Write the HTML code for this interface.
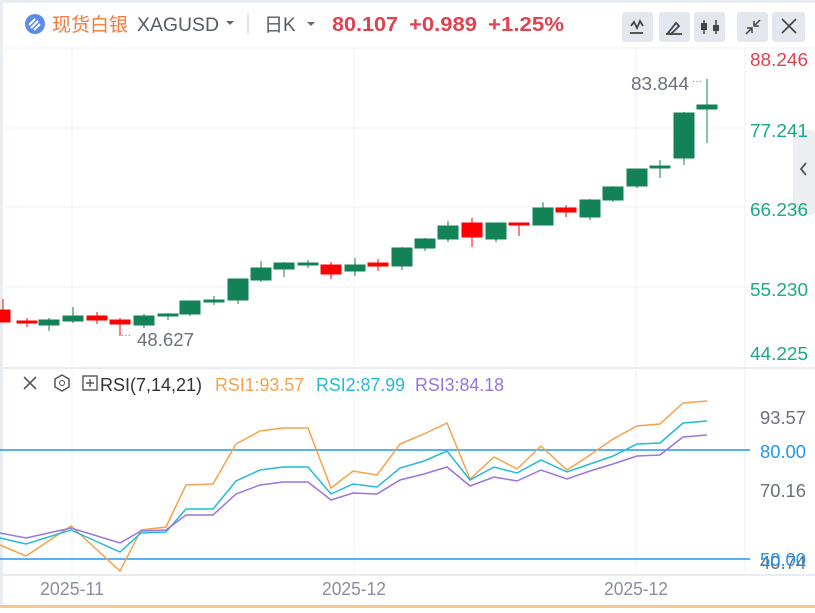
<!DOCTYPE html>
<html><head><meta charset="utf-8"><style>
body{margin:0;width:815px;height:608px;overflow:hidden;background:#fff;font-family:"Liberation Sans","Noto Sans CJK SC",sans-serif}
</style></head><body>
<svg width="815" height="608" xmlns="http://www.w3.org/2000/svg" font-family="Liberation Sans, Noto Sans CJK SC, sans-serif">
<rect x="0" y="0" width="815" height="608" fill="#fff"/>
<rect x="0" y="0" width="815" height="3" fill="#e8ebf0"/>
<rect x="0" y="0" width="3" height="608" fill="#e8ebf0"/>
<line x1="0" y1="48" x2="815" y2="48" stroke="#eef0f3"/>
<!-- header -->
<circle cx="35" cy="24" r="10" fill="#5b8de6"/>
<path d="M29 25 l6 -6 M31 28 l7 -7 M34 30 l6 -6" stroke="#fff" stroke-width="2"/>
<text x="52" y="31" font-size="19" fill="#f5793a">现货白银</text>
<text x="137" y="31" font-size="19" fill="#555a66" textLength="82" lengthAdjust="spacingAndGlyphs">XAGUSD</text>
<path d="M226 21 l4 4 l4 -4z" fill="#666"/>
<line x1="248" y1="14" x2="248" y2="34" stroke="#ccc"/>
<text x="264" y="31" font-size="19" fill="#555a66">日K</text>
<path d="M307 22 l4 4 l4 -4z" fill="#666"/>
<text x="332" y="31" font-size="20" font-weight="bold" fill="#e0434f" textLength="66" lengthAdjust="spacingAndGlyphs">80.107</text>
<text x="409" y="31" font-size="20" font-weight="bold" fill="#e0434f" textLength="68" lengthAdjust="spacingAndGlyphs">+0.989</text>
<text x="488" y="31" font-size="20" font-weight="bold" fill="#e0434f" textLength="76" lengthAdjust="spacingAndGlyphs">+1.25%</text>
<g fill="#e4e7ed"><rect x="622" y="12" width="31" height="30" rx="3"/><rect x="659" y="12" width="31" height="30" rx="3"/><rect x="694" y="12" width="31" height="30" rx="3"/><rect x="737" y="12" width="31" height="30" rx="3"/><rect x="772" y="12" width="33" height="30" rx="3"/></g>
<path d="M631 26 l3 -4 l3 6 l3 -7 l3 5 M630 33 h13" stroke="#444" stroke-width="1.8" fill="none"/>
<path d="M668 33 l8 -10 l3 3 l-8 8z M666 34 h16" stroke="#444" stroke-width="1.8" fill="none"/>
<path d="M704 20 v14 M716 20 v14" stroke="#444" stroke-width="1.5"/><rect x="701" y="23" width="6" height="7" fill="#444"/><rect x="713" y="25" width="6" height="6" fill="#444"/>
<path d="M746 34 l6 -6 M747 28 h5 v5 M760 20 l-6 6 M754 21 v5 h5" stroke="#444" stroke-width="1.5" fill="none"/>
<path d="M782 19 l14 14 M796 19 l-14 14" stroke="#444" stroke-width="1.6"/>
<!-- main grid -->
<g stroke="#f0f1f4"><line x1="0" y1="128" x2="745" y2="128"/><line x1="0" y1="207" x2="745" y2="207"/><line x1="0" y1="287" x2="745" y2="287"/><line x1="72" y1="48" x2="72" y2="368"/><line x1="354" y1="48" x2="354" y2="368"/><line x1="636" y1="48" x2="636" y2="368"/><line x1="745" y1="48" x2="745" y2="575"/></g>
<rect x="793" y="130" width="22" height="85" rx="4" fill="#eceef1"/>
<path d="M806 163 l-5 6 l5 6" stroke="#555" stroke-width="1.8" fill="none"/>
<g font-size="18"><text x="750" y="66" fill="#e0434f" textLength="58" lengthAdjust="spacingAndGlyphs">88.246</text><text x="750" y="137" fill="#1aa889" textLength="58" lengthAdjust="spacingAndGlyphs">77.241</text><text x="750" y="216" fill="#1aa889" textLength="58" lengthAdjust="spacingAndGlyphs">66.236</text><text x="750" y="296" fill="#1aa889" textLength="58" lengthAdjust="spacingAndGlyphs">55.230</text><text x="750" y="360" fill="#1aa889" textLength="58" lengthAdjust="spacingAndGlyphs">44.225</text></g>
<!-- candles -->
<g>
<g stroke="#f00" fill="#f00">
<line x1="3" y1="299" x2="3" y2="322"/><rect x="0" y="310" width="10" height="12"/>
<line x1="27" y1="318" x2="27" y2="327"/><rect x="17" y="321" width="20" height="2"/>
<line x1="97" y1="312" x2="97" y2="324"/><rect x="87" y="316" width="20" height="4"/>
<line x1="120" y1="318" x2="120" y2="336"/><rect x="110" y="320" width="20" height="4"/>
<line x1="331" y1="262" x2="331" y2="279"/><rect x="321" y="265" width="20" height="9"/>
<line x1="378" y1="259" x2="378" y2="271"/><rect x="368" y="263" width="20" height="3"/>
<line x1="472" y1="218" x2="472" y2="247"/><rect x="462" y="223" width="20" height="14"/>
<line x1="519" y1="224" x2="519" y2="236"/><rect x="509" y="223" width="20" height="2"/>
<line x1="566" y1="205" x2="566" y2="217"/><rect x="556" y="208" width="20" height="4"/>
</g>
<g stroke="#138257" fill="#138257">
<line x1="49" y1="318" x2="49" y2="331"/><rect x="39" y="320" width="20" height="5"/>
<line x1="73" y1="307" x2="73" y2="323"/><rect x="63" y="316" width="20" height="5"/>
<line x1="144" y1="314" x2="144" y2="328"/><rect x="134" y="316" width="20" height="9"/>
<line x1="168" y1="313" x2="168" y2="320"/><rect x="158" y="314" width="20" height="2"/>
<line x1="190" y1="301" x2="190" y2="316"/><rect x="180" y="301" width="20" height="13"/>
<line x1="214" y1="296" x2="214" y2="305"/><rect x="204" y="300" width="20" height="2"/>
<line x1="238" y1="279" x2="238" y2="304"/><rect x="228" y="279" width="20" height="21"/>
<line x1="261" y1="261" x2="261" y2="282"/><rect x="251" y="268" width="20" height="12"/>
<line x1="284" y1="262" x2="284" y2="277"/><rect x="274" y="263" width="20" height="6"/>
<line x1="308" y1="260" x2="308" y2="268"/><rect x="298" y="263" width="20" height="2"/>
<line x1="355" y1="258" x2="355" y2="276"/><rect x="345" y="265" width="20" height="6"/>
<line x1="402" y1="247" x2="402" y2="270"/><rect x="392" y="248" width="20" height="18"/>
<line x1="425" y1="238" x2="425" y2="251"/><rect x="415" y="239" width="20" height="9"/>
<line x1="448" y1="221" x2="448" y2="242"/><rect x="438" y="226" width="20" height="13"/>
<line x1="496" y1="223" x2="496" y2="242"/><rect x="486" y="223" width="20" height="16"/>
<line x1="543" y1="202" x2="543" y2="225"/><rect x="533" y="208" width="20" height="17"/>
<line x1="590" y1="199" x2="590" y2="220"/><rect x="580" y="200" width="20" height="17"/>
<line x1="613" y1="186" x2="613" y2="202"/><rect x="603" y="187" width="20" height="13"/>
<line x1="637" y1="169" x2="637" y2="188"/><rect x="627" y="169" width="20" height="17"/>
<line x1="660" y1="160" x2="660" y2="178"/><rect x="650" y="166" width="20" height="2"/>
<line x1="684" y1="112" x2="684" y2="165"/><rect x="674" y="113" width="20" height="45"/>
<line x1="707" y1="79" x2="707" y2="143"/><rect x="697" y="105" width="20" height="4"/>
</g>
</g>
<text x="631" y="90" font-size="18" fill="#6b6f7e" textLength="58" lengthAdjust="spacingAndGlyphs">83.844</text>
<text x="692" y="84" font-size="10" fill="#6b6f7e">···</text>
<text x="137" y="346" font-size="18" fill="#6b6f7e" textLength="57" lengthAdjust="spacingAndGlyphs">48.627</text>
<text x="121" y="338" font-size="10" fill="#6b6f7e">···</text>
<!-- RSI pane -->
<line x1="0" y1="368" x2="815" y2="368" stroke="#e8ebf0" stroke-width="2"/>
<g stroke="#f0f1f4"><line x1="72" y1="370" x2="72" y2="575"/><line x1="354" y1="370" x2="354" y2="575"/><line x1="636" y1="370" x2="636" y2="575"/></g>
<line x1="0" y1="575" x2="815" y2="575" stroke="#e8ebf0" stroke-width="2"/>
<path d="M24 377 l12 12 M36 377 l-12 12" stroke="#555" stroke-width="1.6"/>
<path d="M62 375 l7 4 v8 l-7 4 l-7 -4 v-8z" stroke="#555" stroke-width="1.5" fill="none"/><circle cx="62" cy="383" r="2.5" stroke="#555" fill="none"/>
<rect x="83" y="376" width="14" height="14" stroke="#555" fill="none" stroke-width="1.4"/><path d="M90 379 v8 M86 383 h8" stroke="#555" stroke-width="1.4"/>
<text x="100" y="391" font-size="18" fill="#333" textLength="102" lengthAdjust="spacingAndGlyphs">RSI(7,14,21)</text>
<text x="215" y="391" font-size="18" fill="#f7a24b" textLength="89" lengthAdjust="spacingAndGlyphs">RSI1:93.57</text>
<text x="316" y="391" font-size="18" fill="#20bcd6" textLength="89" lengthAdjust="spacingAndGlyphs">RSI2:87.99</text>
<text x="415" y="391" font-size="18" fill="#9a74df" textLength="89" lengthAdjust="spacingAndGlyphs">RSI3:84.18</text>
<line x1="0" y1="450" x2="750" y2="450" stroke="#2196f3" stroke-width="1.5"/>
<line x1="0" y1="559" x2="750" y2="559" stroke="#2196f3" stroke-width="1.5"/>
<g font-size="18"><text x="760" y="424" fill="#6b6f7e" textLength="46" lengthAdjust="spacingAndGlyphs">93.57</text><text x="760" y="458" fill="#2196f3" textLength="46" lengthAdjust="spacingAndGlyphs">80.00</text><text x="760" y="497" fill="#6b6f7e" textLength="46" lengthAdjust="spacingAndGlyphs">70.16</text><text x="760" y="569" fill="#6b6f7e" textLength="46" lengthAdjust="spacingAndGlyphs">40.74</text><text x="760" y="566" fill="#2196f3" textLength="46" lengthAdjust="spacingAndGlyphs">50.00</text></g>
<polyline fill="none" stroke="#f7a24b" stroke-width="1.5" points="0,545 26,556 71,526 120,571 141,530 166,527 186,485 213,484 236,444 260,431 283,428 308,428 331,488 353,471 377,475 400,444 424,434 447,423 470,479 494,457 517,469 541,446 567,470 590,455 613,439 637,426 660,424 683,403 707,401"/>
<polyline fill="none" stroke="#20bcd6" stroke-width="1.5" points="0,538 26,544 71,530 120,552 141,533 166,532 186,509 213,509 236,481 260,470 283,467 308,467 331,494 353,484 377,487 400,468 424,461 447,451 470,480 494,467 517,473 541,460 567,472 590,464 613,456 637,444 660,443 683,423 707,421"/>
<polyline fill="none" stroke="#9a74df" stroke-width="1.5" points="0,533 26,538 71,528 120,543 141,531 166,530 186,515 213,515 236,494 260,485 283,482 308,482 331,500 353,493 377,494 400,480 424,474 447,467 470,486 494,477 517,481 541,470 567,479 590,471 613,464 637,456 660,455 683,437 707,435"/>
<g font-size="18" fill="#8a8e9c"><text x="40" y="595" textLength="64" lengthAdjust="spacingAndGlyphs">2025-11</text><text x="322" y="595" textLength="64" lengthAdjust="spacingAndGlyphs">2025-12</text><text x="604" y="595" textLength="64" lengthAdjust="spacingAndGlyphs">2025-12</text></g>
<g fill="#f0c890"><rect x="0" y="605" width="815" height="3"/></g>
</svg>
</body></html>
